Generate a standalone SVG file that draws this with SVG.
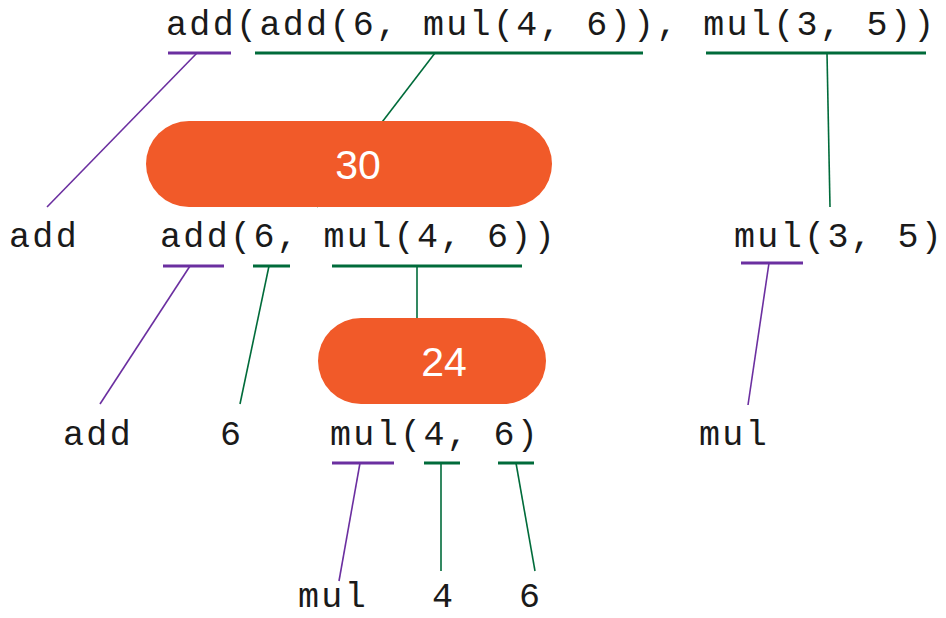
<svg xmlns="http://www.w3.org/2000/svg" width="946" height="618" viewBox="0 0 946 618">
<style>
.code{font-family:"Liberation Mono","Courier New",monospace;font-size:35px;letter-spacing:2.35px;fill:#1a1a1a}
.val{font-family:"Liberation Sans",Arial,sans-serif;font-size:41px;fill:#ffffff;text-anchor:middle}
.pill{fill:#f15a29}
.up{stroke:#6b2fa0;stroke-width:3.2;fill:none}
.ug{stroke:#006b3a;stroke-width:3.2;fill:none}
.lp{stroke:#6b2fa0;stroke-width:1.6;fill:none}
.lg{stroke:#006b3a;stroke-width:1.6;fill:none}
</style>
<rect width="946" height="618" fill="#ffffff"/>
<g id="connectors">
  <line class="up" x1="168" y1="53" x2="231" y2="53"/>
  <line class="ug" x1="255" y1="53" x2="643" y2="53"/>
  <line class="ug" x1="706" y1="53" x2="926" y2="53"/>
  <line class="lp" x1="197" y1="53" x2="47" y2="207"/>
  <line class="lg" x1="435" y1="53" x2="317" y2="207"/>
  <line class="lg" x1="827" y1="53" x2="830" y2="207"/>
  <line class="up" x1="163" y1="266" x2="224" y2="266"/>
  <line class="ug" x1="253" y1="266" x2="290" y2="266"/>
  <line class="ug" x1="332" y1="266" x2="522" y2="266"/>
  <line class="up" x1="741" y1="263" x2="803" y2="263"/>
  <line class="lp" x1="190" y1="266" x2="100" y2="404"/>
  <line class="lg" x1="269" y1="266" x2="240" y2="404"/>
  <line class="lg" x1="417" y1="266" x2="417" y2="404"/>
  <line class="lp" x1="769" y1="263" x2="748" y2="405"/>
  <line class="up" x1="332" y1="463" x2="394" y2="463"/>
  <line class="ug" x1="424" y1="463" x2="460" y2="463"/>
  <line class="ug" x1="498" y1="463" x2="534" y2="463"/>
  <line class="lp" x1="360" y1="463" x2="339" y2="581"/>
  <line class="lg" x1="441" y1="463" x2="441" y2="571"/>
  <line class="lg" x1="516" y1="463" x2="535" y2="571"/>
</g>
<g id="n-root"><text class="code" x="166" y="35">add(add(6, mul(4, 6)), mul(3, 5))</text></g>
<g id="v-30"><rect class="pill" x="146" y="121" width="406" height="86" rx="43"/><text class="val" x="358" y="179">30</text></g>
<g id="n-add1"><text class="code" x="9" y="247">add</text></g>
<g id="n-add-expr"><text class="code" x="160" y="247">add(6, mul(4, 6))</text></g>
<g id="n-mul35"><text class="code" x="734" y="247">mul(3, 5)</text></g>
<g id="v-24"><rect class="pill" x="318" y="318" width="228" height="86" rx="43"/><text class="val" x="444" y="376">24</text></g>
<g id="n-add2"><text class="code" x="63" y="445">add</text></g>
<g id="n-6a"><text class="code" x="220" y="445">6</text></g>
<g id="n-mul46"><text class="code" x="330" y="445">mul(4, 6)</text></g>
<g id="n-mul2"><text class="code" x="699" y="445">mul</text></g>
<g id="n-mul3"><text class="code" x="298" y="607">mul</text></g>
<g id="n-4"><text class="code" x="432" y="607">4</text></g>
<g id="n-6b"><text class="code" x="519" y="607">6</text></g>
</svg>
